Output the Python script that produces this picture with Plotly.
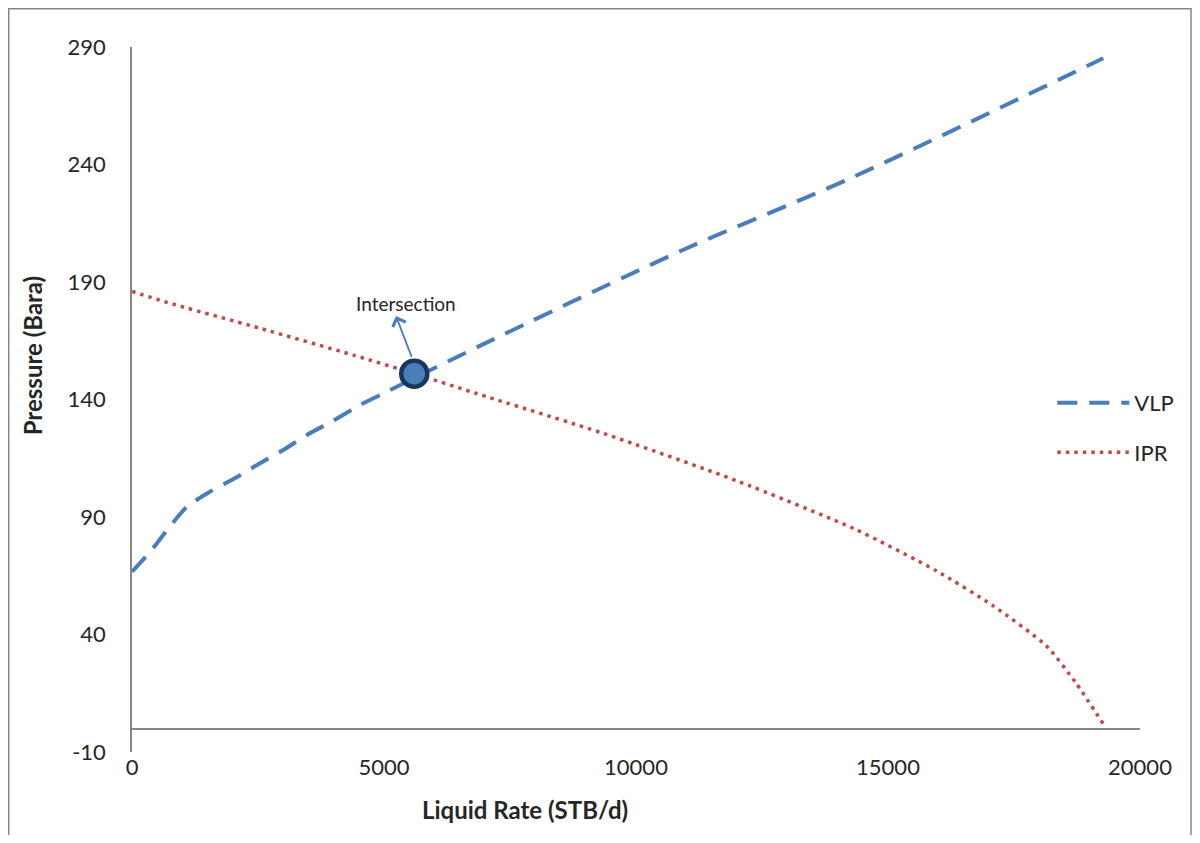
import plotly.graph_objects as go

# ---- data ----
vlp_rate = [0, 390, 750, 1080, 1550, 2040, 2540, 3000, 3470, 3960, 4460, 4920,
            6900, 10930, 14250, 19270]
vlp_pressure = [66.7, 76.0, 85.9, 94.1, 100.8, 106.5, 112.9, 118.5, 124.9, 130.6,
                136.9, 141.9, 162.8, 203.6, 234.1, 285.2]

ipr_rate = [0, 650, 2540, 4390, 5600, 6800, 9350, 12000, 14350, 15960, 17080,
            18140, 18735, 19300]
ipr_pressure = [186.0, 181.6, 170.3, 158.9, 151.0, 142.8, 125.6, 105.4, 84.8,
                67.1, 52.3, 35.2, 19.2, 1.0]

intersection_rate = [5600]
intersection_pressure = [151]

x_ticks = [0, 5000, 10000, 15000, 20000]
x_ticktext = ["0", "5000", "10000", "15000", "20000"]
y_ticks = [-10, 40, 90, 140, 190, 240, 290]
y_ticktext = ["-10", "40", "90", "140", "190", "240", "290"]

FONT = "Lato"
BLUE = "#4A7EBB"
RED = "#BE4B48"
GREY = "#868686"
TEXT = "#262626"

fig = go.Figure()
fig.add_trace(go.Scatter(
    x=vlp_rate, y=vlp_pressure, mode="lines", name="VLP",
    line=dict(color=BLUE, width=4, dash="20px,12px", shape="spline", smoothing=0.8),
    legendgroup="vlp"))
fig.add_trace(go.Scatter(
    x=ipr_rate, y=ipr_pressure, mode="lines", name="IPR",
    line=dict(color=RED, width=3.5, dash="3.5px,5px", shape="spline", smoothing=0.6),
    legendgroup="ipr"))
fig.add_trace(go.Scatter(
    x=intersection_rate, y=intersection_pressure, mode="markers", showlegend=False,
    marker=dict(size=26, color=BLUE, line=dict(color="#17375E", width=4.5))))

# arrow pointing up to the label
fig.add_annotation(
    x=5238, y=175.5, ax=5560, ay=157.5, xref="x", yref="y", axref="x", ayref="y",
    text="", showarrow=True, arrowhead=4, arrowsize=1.5, arrowwidth=1.8,
    arrowcolor=BLUE)
fig.add_annotation(
    x=5437, y=181, xref="x", yref="y", text="Intersection", showarrow=False,
    font=dict(family=FONT, size=19, color=TEXT))

# axis titles
fig.add_annotation(
    x=0.39, y=-0.082, xref="paper", yref="paper", text="<b>Liquid Rate (STB/d)</b>",
    xanchor="center", yanchor="middle",
    showarrow=False, font=dict(family=FONT, size=24, color=TEXT))
fig.add_annotation(
    x=-0.099, y=0.563, xref="paper", yref="paper", text="<b>Pressure (Bara)</b>",
    xanchor="center", yanchor="middle",
    textangle=-90, showarrow=False, font=dict(family=FONT, size=24, color=TEXT))

# chart border
fig.add_shape(type="rect", xref="paper", yref="paper",
              x0=-0.1223, x1=1.0506, y0=-0.3, y1=1.0543,
              line=dict(color=GREY, width=1.5), layer="below")

fig.update_layout(
    width=1184, height=827,
    margin=dict(l=124, r=52, t=39, b=83),
    paper_bgcolor="white", plot_bgcolor="white",
    font=dict(family=FONT, size=22, color=TEXT),
    showlegend=True,
    legend=dict(x=0.913, y=0.525, xanchor="left", yanchor="top", itemwidth=72,
                bgcolor="rgba(0,0,0,0)", font=dict(family=FONT, size=22, color=TEXT),
                tracegroupgap=18),
)
fig.update_xaxes(range=[0, 20000], tickvals=x_ticks, ticktext=x_ticktext,
                 showgrid=False, zeroline=False,
                 showline=False, ticks="", tickfont=dict(family=FONT, size=22))
fig.update_yaxes(range=[-10, 290], tickvals=y_ticks, ticktext=y_ticktext,
                 showgrid=False,
                 zeroline=True, zerolinecolor=GREY, zerolinewidth=1.5,
                 showline=True, linecolor=GREY, linewidth=1.5, ticks="",
                 ticklabelstandoff=20, tickfont=dict(family=FONT, size=22))

fig.write_html("out.html")
